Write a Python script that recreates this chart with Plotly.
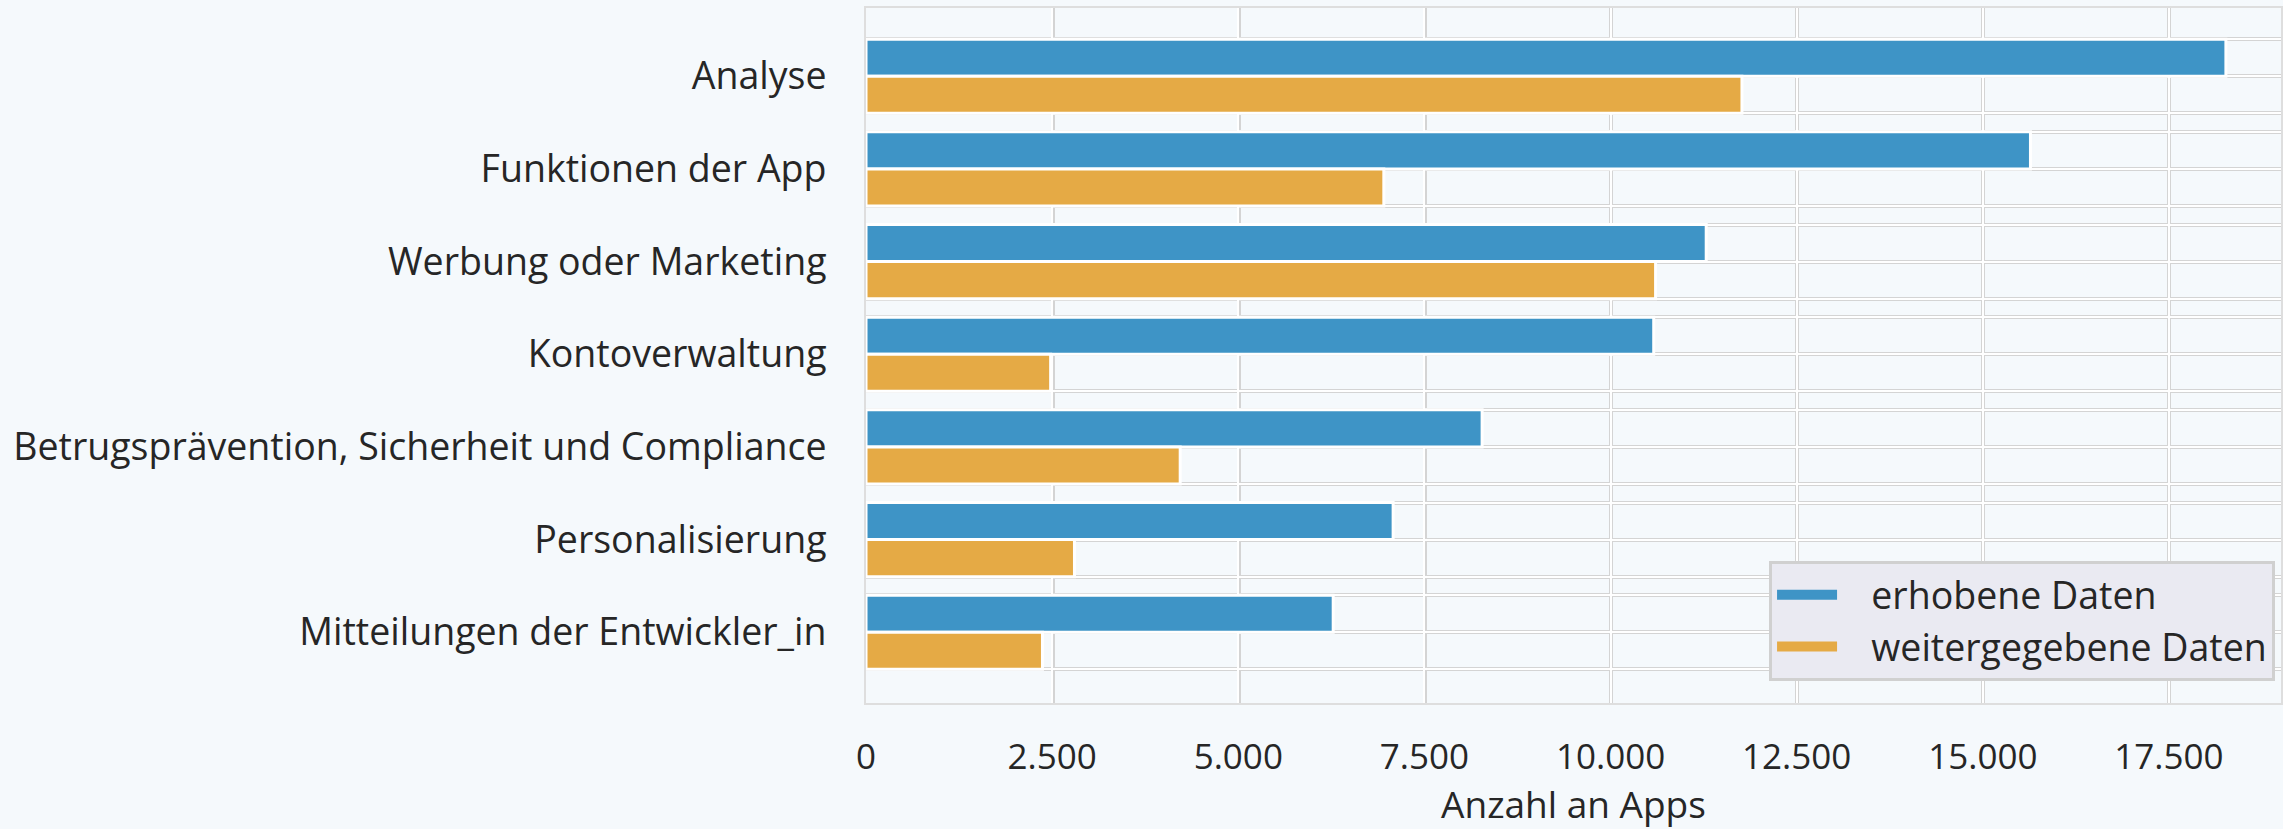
import plotly.graph_objects as go

categories = [
    "Analyse",
    "Funktionen der App",
    "Werbung oder Marketing",
    "Kontoverwaltung",
    "Betrugsprävention, Sicherheit und Compliance",
    "Personalisierung",
    "Mitteilungen der Entwickler_in",
]
erhoben = [18265, 15640, 11285, 10580, 8275, 7080, 6275]
weitergegeben = [11765, 6955, 10605, 2480, 4220, 2800, 2370]
series_names = ["erhobene Daten", "weitergegebene Daten"]
x_ticks = [0, 2500, 5000, 7500, 10000, 12500, 15000, 17500]
x_ticktext = ["0", "2.500", "5.000", "7.500", "10.000", "12.500", "15.000", "17.500"]

BLUE = "#3e94c6"
ORANGE = "#e5aa45"
BG = "#f5f9fc"
GRID_GRAY = "#d4d4d4"
TXT = "#262626"
FONT = "Open Sans"

idx = list(range(len(categories)))

fig = go.Figure()
fig.add_trace(go.Bar(y=idx, x=erhoben, orientation="h", name=series_names[0],
                     showlegend=False,
                     marker=dict(color=BLUE, line=dict(color="white", width=3))))
fig.add_trace(go.Bar(y=idx, x=weitergegeben, orientation="h", name=series_names[1],
                     showlegend=False,
                     marker=dict(color=ORANGE, line=dict(color="white", width=3))))
# legend entries (wide swatches)
for k, (name, col) in enumerate(zip(series_names, [BLUE, ORANGE])):
    fig.add_trace(go.Scatter(x=[None], y=[None], mode="lines",
                             name="\u00a0\u00a0\u00a0" + name,
                             legendgroup=f"g{k}",
                             line=dict(color=col, width=24)))

# gridline positions: category centres and outer edges of bar pairs
ypos, ytext = [], []
for i, c in enumerate(categories):
    ypos += [i - 0.4, i, i + 0.4]
    ytext += ["", c, ""]

yrange = [len(categories) - 1 + 0.763, -0.736]
xrange = [0, 19005]

fig.update_layout(
    width=2283, height=829,
    margin=dict(l=866, r=0, t=8, b=126),
    paper_bgcolor=BG, plot_bgcolor=BG,
    font=dict(family=FONT, size=37.5, color=TXT),
    barmode="group", bargap=0.2, bargroupgap=0,
    showlegend=True,
    legend=dict(x=0.9958, xanchor="right", y=0.032, yanchor="bottom",
                bgcolor="#eaeaf2", bordercolor="#d0d0d0", borderwidth=3,
                font=dict(size=37.5, color=TXT), traceorder="normal",
                itemsizing="trace", itemwidth=60, tracegroupgap=22),
    xaxis=dict(range=xrange, tickvals=x_ticks, ticktext=x_ticktext,
               showgrid=True, gridcolor="white", gridwidth=1.5,
               minor=dict(tickvals=[v + 6 for v in x_ticks], showgrid=True,
                          gridcolor=GRID_GRAY, gridwidth=4, ticks=""),
               showline=True, linecolor="#dedede", linewidth=2, mirror=True,
               zeroline=False, ticks="", ticklabelstandoff=22, tickfont=dict(size=35),
               title=dict(text="Anzahl an Apps", font=dict(size=37), standoff=18)),
    yaxis=dict(range=yrange, tickvals=ypos, ticktext=ytext,
               showgrid=True, gridcolor="white", gridwidth=1.5,
               minor=dict(tickvals=[v + 0.001 for v in ypos], showgrid=True,
                          gridcolor=GRID_GRAY, gridwidth=4, ticks=""),
               showline=True, linecolor="#dedede", linewidth=2, mirror=True,
               zeroline=False, ticks="", ticklabelstandoff=30),
)

fig.write_html("out.html")
